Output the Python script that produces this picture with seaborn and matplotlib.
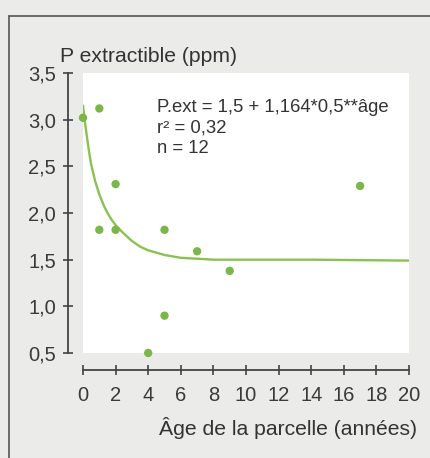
import matplotlib
matplotlib.use("Agg")
import matplotlib.pyplot as plt
from matplotlib.lines import Line2D
import seaborn as sns
import pandas as pd

# ============================
# Données
# ============================
age_parcelle = [0, 1, 1, 2, 2, 4, 5, 5, 7, 9, 17]
p_extractible = [3.02, 3.12, 1.82, 2.31, 1.82, 0.50, 0.90, 1.82, 1.59, 1.38, 2.29]

# courbe d'ajustement
courbe_age = [0, 0.1, 0.2, 0.35, 0.5, 0.75, 1.0, 1.25, 1.5, 1.75, 2.0, 2.5,
              3.0, 3.5, 4.0, 5.0, 6.0, 8.0, 10, 14, 20]
courbe_p = [3.15, 3.00, 2.87, 2.68, 2.52, 2.34, 2.20, 2.09, 2.00, 1.93, 1.87,
            1.78, 1.70, 1.64, 1.60, 1.55, 1.52, 1.50, 1.50, 1.50, 1.49]

y_ticks = [0.5, 1.0, 1.5, 2.0, 2.5, 3.0, 3.5]
y_tick_labels = ["0,5", "1,0", "1,5", "2,0", "2,5", "3,0", "3,5"]
x_ticks = [0, 2, 4, 6, 8, 10, 12, 14, 16, 18, 20]

equation = "P.ext = 1,5 + 1,164*0,5**âge\nr² = 0,32\nn = 12"

df_points = pd.DataFrame({"age": age_parcelle, "p": p_extractible})
df_courbe = pd.DataFrame({"age": courbe_age, "p": courbe_p})

# ============================
# Style
# ============================
sns.set_theme(style="ticks")
plt.rcParams["font.family"] = ["Liberation Sans", "DejaVu Sans"]

fond = "#ebebe9"
vert_points = "#7ab648"
vert_ligne = "#8ac251"
gris_axe = "#444444"

fig = plt.figure(figsize=(4.31, 4.58), dpi=100, facecolor=fond)
ax = fig.add_axes([83 / 431, 1 - 353 / 458, 326 / 431, 280 / 458])
ax.set_facecolor("white")

sns.lineplot(data=df_courbe, x="age", y="p", color=vert_ligne, linewidth=1.7,
             ax=ax, zorder=2)
sns.scatterplot(data=df_points, x="age", y="p", color=vert_points, s=36,
                edgecolor="none", ax=ax, zorder=3, clip_on=False)

ax.set_xlim(0, 20)
ax.set_ylim(0.5, 3.5)
ax.set_xticks(x_ticks)
ax.set_yticks(y_ticks)
ax.set_yticklabels(y_tick_labels)
ax.set_xlabel("")
ax.set_ylabel("")

for side in ["top", "right"]:
    ax.spines[side].set_visible(False)
ax.spines["left"].set_position(("outward", 11))
ax.spines["bottom"].set_position(("outward", 12))
for side in ["left", "bottom"]:
    ax.spines[side].set_color(gris_axe)
    ax.spines[side].set_linewidth(1.3)

ax.tick_params(axis="both", direction="inout", length=7, width=1.2,
               color=gris_axe, labelcolor="#3a3a3a", labelsize=14.5)
ax.tick_params(axis="y", pad=5)
ax.tick_params(axis="x", pad=8)

ax.text(4.55, 3.225, equation, fontsize=13.3, color="#333333",
        va="top", ha="left", linespacing=1.27)

fig.text(60 / 431, 1 - 56 / 458, "P extractible (ppm)", fontsize=15.2,
         color="#333333", ha="left", va="center")
fig.text(417 / 431, 1 - 428 / 458, "Âge de la parcelle (années)", fontsize=15.2,
         color="#333333", ha="right", va="center")

# cadre de l'encadré
x0 = 9.5 / 431
y0 = 1 - 15.5 / 458
fig.add_artist(Line2D([x0, x0], [0, y0], color="#555555", linewidth=1.2,
                      transform=fig.transFigure))
fig.add_artist(Line2D([x0, 1], [y0, y0], color="#555555", linewidth=1.2,
                      transform=fig.transFigure))

fig.savefig("out.png", dpi=100, facecolor=fond)
